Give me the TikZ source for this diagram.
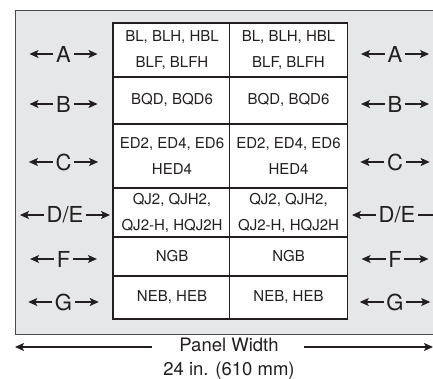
\documentclass[tikz,border=0pt]{standalone}
\usepackage{fontspec}
\setmainfont{TeX Gyre Heros}
\usetikzlibrary{arrows.meta}
\definecolor{panelgray}{HTML}{E6E7E8}
\definecolor{linegray}{HTML}{4A4A4A}
\definecolor{ink}{HTML}{231F20}
\tikzset{
  cell/.style={draw=ink, line width=1.1pt, fill=white, minimum width=118pt, align=center,
    font=\fontsize{15}{26}\selectfont, text=ink, inner sep=0pt},
  lab/.style={font=\fontsize{22}{24}\selectfont, text=ink, inner sep=2.5pt},
  arr/.style={draw=ink, line width=1.1pt, -{Stealth[length=9pt,width=8pt,inset=2pt]}},
  dimtext/.style={font=\fontsize{18.5}{24}\selectfont, text=ink, align=center, inner sep=0pt}
}
\newcommand\sidelabel[3]{%
  \node[lab] (#1) at (#2) {#3};
  \draw[arr] (#1.west) -- ++(-24,0);
  \draw[arr] (#1.east) -- ++(24,0);}
\begin{document}
\begin{tikzpicture}[x=1pt,y=-1pt]
\useasboundingbox (0,0) rectangle (433,379);
\fill[white] (0,0) rectangle (433,379);
% panel
\draw[fill=panelgray, draw=linegray, line width=0.9pt] (15,10) rectangle (450,334);
% table cells
\node[cell, minimum height=54pt] (a1) at (172,50) {BL, BLH, HBL\\BLF, BLFH};
\node[cell, minimum height=54pt] (a2) at (288.5,50) {BL, BLH, HBL\\BLF, BLFH};
\node[cell, minimum height=47pt] (b1) at (172,100.5) {BQD, BQD6};
\node[cell, minimum height=47pt] (b2) at (288.5,100.5) {BQD, BQD6};
\node[cell, minimum height=64pt] (c1) at (172,156) {ED2, ED4, ED6\\HED4};
\node[cell, minimum height=64pt] (c2) at (288.5,156) {ED2, ED4, ED6\\HED4};
\node[cell, minimum height=49pt] (d1) at (172,212.5) {QJ2, QJH2,\\QJ2-H, HQJ2H};
\node[cell, minimum height=49pt] (d2) at (288.5,212.5) {QJ2, QJH2,\\QJ2-H, HQJ2H};
\node[cell, minimum height=39pt] (f1) at (172,256.5) {NGB};
\node[cell, minimum height=39pt] (f2) at (288.5,256.5) {NGB};
\node[cell, minimum height=43pt] (g1) at (172,297.5) {NEB, HEB};
\node[cell, minimum height=43pt] (g2) at (288.5,297.5) {NEB, HEB};
% side labels
\sidelabel{la}{63.5,54}{A}
\sidelabel{lb}{63.5,104}{B}
\sidelabel{lc}{63.5,162}{C}
\sidelabel{ld}{65,215}{D/E}
\sidelabel{lf}{63.5,259}{F}
\sidelabel{lg}{63.5,302}{G}
\sidelabel{ra}{395,54}{A}
\sidelabel{rb}{395,104}{B}
\sidelabel{rc}{395,162}{C}
\sidelabel{rd}{397,215}{D/E}
\sidelabel{rf}{395,259}{F}
\sidelabel{rg}{395,302}{G}
% panel width
\node[dimtext] (pw) at (229,359) {Panel Width\\24 in. (610 mm)};
\coordinate (pwl) at (152,347);
\coordinate (pwr) at (304,347);
\coordinate (endl) at (15,347);
\coordinate (endr) at (433,347);
\draw[arr] (pwl) -- (endl);
\draw[arr] (pwr) -- (endr);
\end{tikzpicture}
\end{document}
